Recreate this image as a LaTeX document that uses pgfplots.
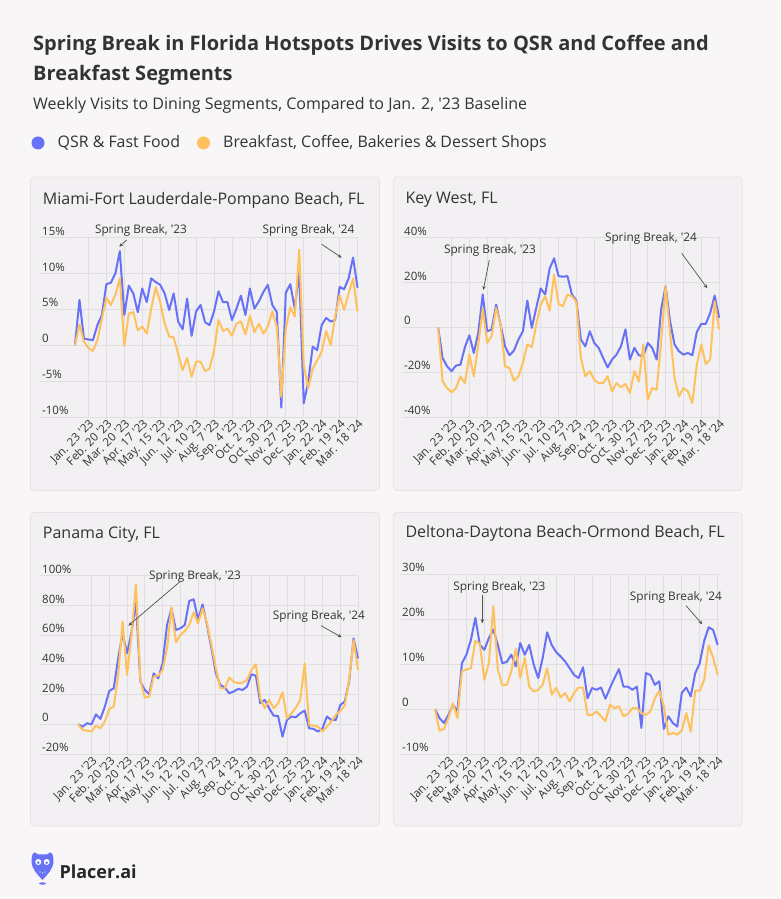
\documentclass[border=0pt]{standalone}
\usepackage{pgfplots}
\pgfplotsset{compat=1.18}
\usepackage{pgfplotstable}
\usepackage{fontspec}
\setmainfont{Open Sans}
\usetikzlibrary{arrows.meta}

\definecolor{qsr}{HTML}{6872F6}
\definecolor{bfk}{HTML}{FFC15E}
\definecolor{bg}{HTML}{F9F6F7}
\definecolor{panel}{HTML}{F2F0F2}
\definecolor{panelline}{HTML}{E4E2E4}
\definecolor{gridc}{HTML}{E0DEE1}
\definecolor{txt}{HTML}{333333}
\newcommand\q{\textquotesingle}

% weekly index from Jan. 2 '23 (0) to Mar. 18 '24 (63); q = QSR, b = breakfast/coffee
\pgfplotstableread{
i q b
0 0 0
1 6.3 2.9
2 0.9 0.5
3 0.8 -0.4
4 0.7 -0.8
5 2.8 0.7
6 4.2 3.7
7 8.5 6.6
8 8.7 5.6
9 10.0 7.0
10 13.1 9.3
11 4.2 -0.1
12 8.3 4.4
13 7.2 4.6
14 4.6 2.1
15 7.9 2.6
16 6.0 1.6
17 9.3 5.1
18 8.8 8.1
19 8.4 6.0
20 7.2 3.0
21 4.9 1.2
22 7.2 1.1
23 3.3 -1.2
24 2.2 -3.5
25 6.5 -1.8
26 1.3 -4.4
27 4.7 -2.3
28 5.6 -2.3
29 3.2 -3.6
30 2.8 -3.3
31 4.7 -0.8
32 7.5 3.5
33 6.0 2.0
34 6.0 2.3
35 3.5 1.3
36 5.1 3.0
37 6.9 3.3
38 4.2 1.5
39 7.9 4.1
40 5.1 1.8
41 6.1 3.0
42 7.4 1.6
43 8.4 2.6
44 5.6 4.7
45 4.6 2.6
46 -8.7 -7.2
47 7.3 2.3
48 8.5 5.3
49 5.1 4.0
50 10.2 13.3
51 -8.1 -2.8
52 -5.1 -6.0
53 -0.2 -3.3
54 -0.7 -2.1
55 2.8 -0.9
56 3.8 2.0
57 3.3 0.0
58 3.5 4.0
59 8.1 7.0
60 7.8 4.9
61 9.3 7.2
62 12.2 9.3
63 8.0 4.7
}\miami

\pgfplotstableread{
i q b
0 0 0
1 -13.7 -24.1
2 -17.4 -27.1
3 -19.6 -29.0
4 -17.1 -27.1
5 -16.7 -21.9
6 -8.9 -24.9
7 -3.6 -12.2
8 -11.5 -21.9
9 -2.5 -7.7
10 14.6 8.3
11 -1.8 -7.0
12 -1.0 -4.0
13 10.1 8.6
14 1.2 1.2
15 -8.5 -17.4
16 -12.5 -18.2
17 -10.4 -23.8
18 -5.5 -21.9
19 -1.8 -15.9
20 11.9 -7.7
21 -0.3 -8.9
22 8.6 1.2
23 17.3 10.1
24 14.6 13.8
25 26.2 7.4
26 30.7 23.5
27 22.8 10.4
28 22.5 9.4
29 22.8 14.6
30 14.6 13.8
31 11.9 11.3
32 -5.5 -13.7
33 -8.5 -21.9
34 -1.8 -19.6
35 -7.0 -23.4
36 -9.2 -24.9
37 -13.7 -24.9
38 -17.9 -21.9
39 -14.4 -28.6
40 -12.2 -24.9
41 -8.5 -26.8
42 -1.0 -25.3
43 -14.4 -29.3
44 -9.2 -19.6
45 -12.5 -24.1
46 -12.9 -7.7
47 -7.0 -32.3
48 -9.2 -27.1
49 -14.4 -27.8
50 7.9 -6.3
51 18.3 18.3
52 2.7 -2.5
53 -7.7 -22.6
54 -10.7 -30.8
55 -12.2 -27.1
56 -11.5 -28.6
57 -12.5 -33.8
58 -2.1 -16.7
59 1.5 -7.7
60 1.5 -16.4
61 6.4 -14.4
62 14.1 11.6
63 4.2 -1.0
}\keywest

\pgfplotstableread{
i q b
0 0 0
1 -1.6 -3.8
2 0.7 -4.3
3 0 -4.9
4 6.7 -0.9
5 3.6 -2.7
6 11.9 1.8
7 22.4 10.3
8 24.2 11.9
9 44.4 33.2
10 61.2 69.1
11 47.8 33.2
12 61.9 60.1
13 82.5 94.0
14 28.7 29.8
15 23.1 17.9
16 20.2 18.6
17 34.3 32.1
18 30.9 32.7
19 41.0 36.5
20 66.8 51.1
21 78.0 78.7
22 63.5 55.2
23 64.6 60.1
24 66.8 62.8
25 83.0 66.8
26 84.1 75.3
27 70.2 67.9
28 80.7 78.0
29 66.8 67.9
30 51.1 53.4
31 34.3 37.7
32 26.5 24.2
33 24.7 24.2
34 20.9 31.4
35 22.0 28.7
36 23.8 27.6
37 23.1 28.0
38 25.3 29.8
39 33.6 36.5
40 32.7 40.4
41 14.1 17.5
42 16.4 10.8
43 10.8 16.4
44 5.8 10.8
45 5.6 14.1
46 -8.3 21.5
47 2.9 4.0
48 5.2 7.4
49 4.7 11.2
50 7.4 16.4
51 9.2 41.0
52 -2.7 -0.4
53 -3.1 -1.1
54 -4.9 -1.6
55 -2.7 -4.9
56 5.2 -1.6
57 2.9 1.8
58 2.9 6.3
59 13.0 9.0
60 15.2 12.6
61 28.7 29.8
62 57.8 56.7
63 44.4 36.5
}\panama

\pgfplotstableread{
i q b
0 0 0
1 -2.0 -4.8
2 -3.1 -4.4
3 -1.3 -2.0
4 1.0 1.3
5 -0.5 -2.0
6 10.2 8.4
7 12.1 8.8
8 15.4 9.1
9 20.3 15.2
10 14.3 14.5
11 13.2 6.5
12 15.8 10.2
13 17.7 22.9
14 14.3 8.8
15 10.2 5.3
16 10.5 5.4
17 12.1 8.4
18 9.5 13.4
19 14.7 6.9
20 12.1 11.4
21 14.3 5.0
22 9.9 3.9
23 6.9 4.3
24 11.4 5.4
25 17.1 9.1
26 14.3 3.2
27 12.7 4.7
28 11.7 2.6
29 10.6 3.6
30 9.1 1.7
31 7.6 3.6
32 6.9 4.8
33 9.3 4.8
34 2.4 -1.3
35 4.7 -1.3
36 4.3 -0.5
37 4.8 -1.6
38 2.3 -2.7
39 4.7 1.0
40 6.9 0.2
41 8.9 0.6
42 5.0 -1.6
43 5.0 -1.1
44 4.3 0.2
45 5.0 0.2
46 -4.2 -0.9
47 8.0 -1.3
48 7.6 -0.5
49 5.4 2.4
50 6.2 4.1
51 -4.4 0.6
52 -1.6 -5.7
53 -3.1 -5.3
54 -3.9 -5.7
55 3.6 -4.8
56 4.8 -0.9
57 2.8 -5.0
58 8.0 4.1
59 10.2 4.1
60 15.2 6.5
61 18.2 14.2
62 17.6 11.4
63 14.3 7.6
}\deltona

\pgfplotsset{
  panel/.style={
    scale only axis, width=318pt, height=179.5pt,
    anchor=north west, clip=false,
    axis line style={draw=none},
    major tick length=0pt,
    grid=major, grid style={gridc, line width=0.8pt},
    xtick={3,7,...,63},
    xticklabels={Jan. 23 \q23, Feb. 20 \q23, Mar. 20 \q23, Apr. 17 \q23, May. 15 \q23, Jun. 12 \q23, Jul. 10 \q23, Aug. 7 \q23, Sep. 4 \q23, Oct. 2 \q23, Oct. 30 \q23, Nov. 27 \q23, Dec. 25 \q23, Jan. 22 \q24, Feb. 19 \q24, Mar. 18 \q24},
    xticklabel style={rotate=45, anchor=north east, inner sep=1pt, font=\fontsize{11.5}{12}\selectfont, text=txt},
    yticklabel style={anchor=south west, inner sep=2pt, font=\fontsize{11.5}{12}\selectfont, text=txt},
  },
  sq/.style={qsr, line width=2pt, line join=round},
  sb/.style={bfk, line width=2pt, line join=round},
}

\begin{document}
\begin{tikzpicture}[x=1pt,y=1pt]
\fill[bg] (0,0) rectangle (780,899);

% header
\node[anchor=west, inner sep=0, text=txt, font=\fontsize{20}{24}\selectfont\bfseries] at (33,854) {Spring Break in Florida Hotspots Drives Visits to QSR and Coffee and};
\node[anchor=west, inner sep=0, text=txt, font=\fontsize{20}{24}\selectfont\bfseries] at (33,824) {Breakfast Segments};
\node[anchor=west, inner sep=0, text=txt, font=\fontsize{16}{18}\selectfont] at (33,794) {Weekly Visits to Dining Segments, Compared to Jan. 2, \q23 Baseline};
\fill[qsr] (38,756) circle (6.5);
\node[anchor=west, inner sep=0, text=txt, font=\fontsize{15.9}{18}\selectfont] at (57.5,756) {QSR \& Fast Food};
\fill[bfk] (203.5,756) circle (6.5);
\node[anchor=west, inner sep=0, text=txt, font=\fontsize{15.9}{18}\selectfont] at (223,756) {Breakfast, Coffee, Bakeries \& Dessert Shops};

% panel frames
\foreach \x/\y in {30.5/408.5, 393.3/408.5, 30.5/73, 393.3/73}
  \draw[panelline, fill=panel, rounded corners=4pt, line width=0.8pt] (\x,\y) rectangle ++(349,313.5);

\node[anchor=west, inner sep=0, text=txt, font=\fontsize{16}{18}\selectfont] at (42.7,699) {Miami-Fort Lauderdale-Pompano Beach, FL};
\node[anchor=west, inner sep=0, text=txt, font=\fontsize{16}{18}\selectfont] at (405.3,699) {Key West, FL};
\node[anchor=west, inner sep=0, text=txt, font=\fontsize{16}{18}\selectfont] at (42.7,364) {Panama City, FL};
\node[anchor=west, inner sep=0, text=txt, font=\fontsize{16}{18}\selectfont] at (405.3,365.5) {Deltona-Daytona Beach-Ormond Beach, FL};

\begin{axis}[panel, at={(40pt,661.5pt)}, xmin=-7.8, xmax=63.1, ymin=-10, ymax=15,
  ytick={-10,-5,0,5,10,15}, yticklabels={-10\%,-5\%,0,5\%,10\%,15\%}]
\addplot[sq] table[x=i,y=q] {\miami};
\addplot[sb] table[x=i,y=b] {\miami};
\end{axis}

\begin{axis}[panel, at={(402pt,661.5pt)}, xmin=-8.1, xmax=63.2, ymin=-40, ymax=40,
  ytick={-40,-20,0,20,40}, yticklabels={-40\%,-20\%,0,20\%,40\%}]
\addplot[sq] table[x=i,y=q] {\keywest};
\addplot[sb] table[x=i,y=b] {\keywest};
\end{axis}

\begin{axis}[panel, at={(40pt,323.3pt)}, height=178.3pt, xmin=-8.6, xmax=63, ymin=-20, ymax=100,
  ytick={-20,0,20,40,60,80,100}, yticklabels={-20\%,0,20\%,40\%,60\%,80\%,100\%}]
\addplot[sq] table[x=i,y=q] {\panama};
\addplot[sb] table[x=i,y=b] {\panama};
\end{axis}

\begin{axis}[panel, at={(400pt,324.7pt)}, width=319pt, height=179.7pt, xmin=-7.8, xmax=63.3, ymin=-10, ymax=30,
  ytick={-10,0,10,20,30}, yticklabels={-10\%,0,10\%,20\%,30\%}]
\addplot[sq] table[x=i,y=q] {\deltona};
\addplot[sb] table[x=i,y=b] {\deltona};
\end{axis}

% annotations
\tikzset{ann/.style={inner sep=0, text=txt, font=\fontsize{11.8}{13}\selectfont},
         arr/.style={-{Stealth[length=4pt,width=3.5pt]}, draw=txt!85, line width=0.7pt}}
\node[ann] at (141,669) {Spring Break, \q23};
\draw[arr] (126.7,659) -- (119.3,652.3);
\node[ann] at (308.5,669) {Spring Break, \q24};
\draw[arr] (321.7,654.7) -- (341.7,641.3);
\node[ann] at (490,649) {Spring Break, \q23};
\draw[arr] (489.3,639) -- (483.3,609);
\node[ann] at (651,660.5) {Spring Break, \q24};
\draw[arr] (681.7,645.7) -- (707.3,610.7);
\node[ann] at (195,323) {Spring Break, \q23};
\draw[arr] (180,317.3) -- (128.3,273.3);
\node[ann] at (318.9,283) {Spring Break, \q24};
\draw[arr] (321,273.3) -- (341.7,261.7);
\node[ann] at (499.3,312) {Spring Break, \q23};
\draw[arr] (482.3,304) -- (482.3,275.7);
\node[ann] at (675.9,301.5) {Spring Break, \q24};
\draw[arr] (686,293.3) -- (702.3,274.7);

% logo
\fill[qsr] (31.5,38) .. controls (31.5,44) and (33,46.5) .. (35,46.5) -- (38,44.5) -- (47,44.5) -- (50,46.5)
  .. controls (52,46.5) and (53.5,44) .. (53.5,38) .. controls (53.5,30) and (47,24) .. (42.5,19)
  .. controls (38,24) and (31.5,30) .. (31.5,38) -- cycle;
\fill[white] (38.3,37) circle (3) (46.7,37) circle (3);
\fill[qsr] (38.3,36.3) circle (1.4) (46.7,36.3) circle (1.4);
\fill[white] (40,27) circle (0.7) (42.5,26) circle (0.7) (45,27) circle (0.7);
\fill[qsr] (42.5,15.5) ellipse (3.5 and 1.2);
\node[anchor=west, inner sep=0, text=black!85, font=\fontsize{18}{22}\selectfont\bfseries] at (59.3,27.3) {Placer.ai};
\end{tikzpicture}
\end{document}
